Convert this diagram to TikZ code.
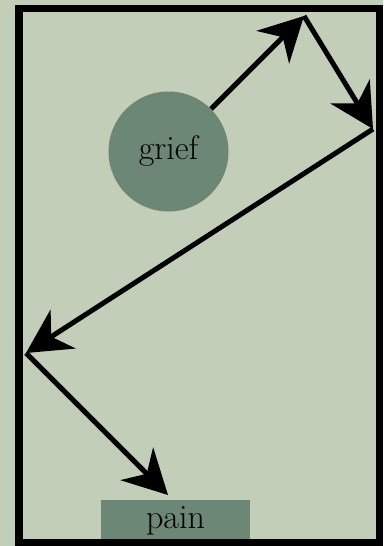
\documentclass[tikz,border=0pt]{standalone}
\usepackage{fontspec}
\usetikzlibrary{arrows.meta}
\definecolor{bgsage}{RGB}{194,206,184}
\definecolor{darksage}{RGB}{108,135,117}
\begin{document}
\begin{tikzpicture}[x=1pt,y=-1pt,
  bubble/.style={circle,fill=darksage,minimum size=120pt,inner sep=0pt,font=\fontsize{34}{34}\selectfont},
  plate/.style={rectangle,fill=darksage,minimum width=149pt,minimum height=42pt,inner sep=0pt,font=\fontsize{34}{34}\selectfont},
  flow/.style={line width=5pt,-{Stealth[length=44pt,width=46pt,inset=14pt]}},
  frame/.style={line width=7.5pt}]
\fill[bgsage] (0,0) rectangle (383,546);
\useasboundingbox (0,0) rectangle (383,546);
\node[bubble] (grief) at (168.5,151.5) {grief};
\node[plate] (pain) at (175.5,521) {pain};
\draw[frame] (19,8.5) rectangle (379.5,542.5);
\coordinate (c1) at (304,16);
\coordinate (c2) at (373,129);
\coordinate (c3) at (26,353);
\coordinate (c4) at (168,495);
\draw[flow] (grief) -- (c1);
\draw[flow] (c1) -- (c2);
\draw[flow] (c2) -- (c3);
\draw[flow] (c3) -- (c4);
\end{tikzpicture}
\end{document}
